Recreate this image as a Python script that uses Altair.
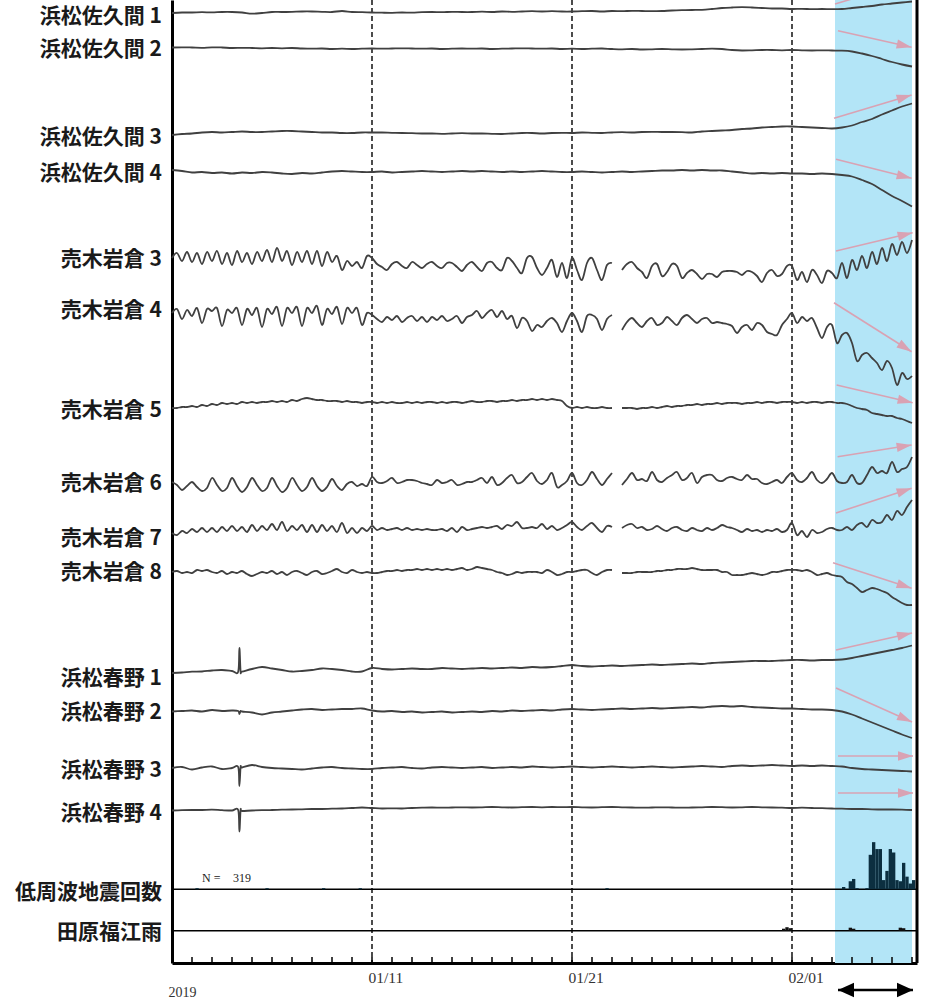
import math
import altair as alt
import pandas as pd

# ---------------- layout of the scales ----------------
WIDTH, HEIGHT = 745, 963
DAY_MIN, DAY_MAX = 0.0, 37.25          # days after 2019-01-01 00:00
Y_MAX = 963                            # vertical trace units (top = 0)

FINE = 0.25     # sampling of the 売木岩倉 records (days)
COARSE = 0.5    # sampling of the 浜松佐久間 / 浜松春野 records (days)

TICK_DAYS = [10, 20, 31]
TICK_LABELS = ["01/11", "01/21", "02/01"]
SHADE = [33.15, 37.0]

# ---------------- strain records (deviation, up = positive) ----------------
SAKUMA1 = [0, 0.5, 0.5, 0.8, 0.6, 1, 1, 0.5, -0.7, 0,
           1, 1, 1.2, 1.5, 1.5, 1.2, 1, 2, 1, 0.8,
           0.5, 0.3, 0.2, 0.5, 0.3, 0.8, 1, 0.8, 1.2, 1,
           1, 1.3, 1, 1.5, 1.2, 1.5, 1.8, 1.5, 1.8, 1.5,
           1.5, 1.8, 2, 1.5, 2, 1.8, 2.2, 2, 1.8, 2,
           2.5, 2.8, 3, 3.2, 4, 5, 5.5, 5.8, 5.5, 5,
           4.5, 4.5, 4, 4.2, 3.8, 4, 3.8, 4, 5, 6,
           7, 8.5, 9.5, 10.5, 11.5]
SAKUMA2 = [0, 0.2, 0, -0.3, 0.2, 0, -0.5, -0.3, -0.5, -0.8,
           -0.5, -0.8, -0.5, -1, -1.2, -1, -1.5, -1.2, -1.5, -1.2,
           -1, -1.2, -1, -0.8, -1, -1.2, -1, -1.5, -1.2, -1,
           -1.2, -1, -1.5, -1.2, -1, -0.8, -1, -1.2, -1, -1.5,
           -1.2, -1.5, -1.2, -1, -1.5, -1.8, -1.5, -2, -1.8, -1.5,
           -1.8, -2, -1.8, -1.5, -1.2, -1.5, -2.5, -3, -2.8, -2.5,
           -2.5, -2.8, -2.5, -2.8, -3, -2.8, -3, -3.2, -4, -6,
           -8.5, -11.5, -14.5, -17, -19]
SAKUMA3 = [-1, 0, 0.5, 1.5, 2, 1.5, 2, 2.5, 2, 2,
           2.5, 3, 3, 2.5, 2, 1.5, 1.5, 1, 1, 1.5,
           1.5, 1.5, 1.2, 1, 0.8, 0.5, 0.5, 0.2, 0.5, 0.8,
           0.5, 0.5, 0.2, 0, 0.5, 1, 1, 0.5, 1, 1.2,
           1, 1.5, 1.2, 1, 1.5, 1.8, 1.5, 2, 2.2, 2,
           2, 1.8, 1.5, 2.5, 3, 3.5, 4, 5, 5.5, 6.5,
           7, 7.5, 7.5, 7, 6.5, 6, 5.5, 6.5, 8.5, 12,
           15, 19.5, 23.5, 27.5, 30.5]
SAKUMA4 = [1, 0, -1.5, -1, -2, -1.5, -2.5, -1.5, -2, -1,
           -1.5, -2.5, -3, -2, -2.5, -1.5, -0.5, 0, -0.5, -1,
           -1, -0.5, -1.5, -1, -0.5, 0, -0.5, -1, -0.5, 0,
           -0.5, 0, -0.5, -1, -0.5, -1, -0.5, 0, -0.5, -1,
           -1, -0.5, -1, -1.5, -1, -0.5, -1, -0.5, 0, 0.5,
           0.5, 1, 0.5, 1, 0.5, 0.5, -0.5, -1.5, -2.5, -2,
           -2.5, -2, -2.5, -2.5, -3, -2.5, -3, -4, -5.5, -9,
           -13, -19, -25, -30, -35.5]

URAGI3 = [0, 5, -3, 6,  -4, 5, -6, 6,  -3, 7, -6, 5,  -7, 7, -4, 5,
          -6, 6, -3, 8,  -4, 10, -3, 7,  -7, 6, -4, 7,  -6, 7, -8, 6,
          -4, 2, -12, -3,  -8, -4, -10, 2,  0, -6, -9, -12,  -6, -4, -8, -10,
          -4, -7, -10, -6,  -4, -8, -10, -5,  -5, -9, -13, -7,  -4, -9, -13, -5,
          -4, -10, -12, 0,  -3, -10, -15, 0,  1, -10, -17, -10,  -2, -19, -5, -20,
          0, -12, -22, -5,  0, -12, -22, -7,  -5, None, -12, -6,  -4, -10, -14, -20,
          -8, -6, -18, -14,  -6, -8, -20, -15,  -12, -16, -21, -16,  -16, -19, -14, -13,
          -13, -14, -17, -13,  -14, -18, -24, -15,  -12, -18, -16, -8,  -8, -22, -14, -24,
          -12, -17, -25, -13,  -15, -20, -5, -20,  -2, -12, 2, -10,  6, -6, 10, -3,
          14, 3, 16, 5,  18]
URAGI4 = [0, 4, -6, 3,  -3, 5, -10, 4,  2, 5, -13, 3,  0, 5, -12, 4,
          -2, 5, -14, 4,  -1, 6, -13, 5,  0, 6, -13, 5,  0, 7, -12, 4,
          -1, 6, -11, 5,  0, 5, -12, 0,  -2, -6, -9, -4,  -7, -3, -9, -5,
          -3, -8, -4, -9,  -4, -7, -3, -8,  -6, -3, -10, -4,  -2, 2, -5, 0,
          3, -4, 2, -6,  -3, -15, -5, -8,  -18, -12, -14, -8,  -5, -10, -19, -8,
          0, -8, -19, -3,  -2, -6, -17, -6,  -2, None, -17, -9,  -5, -10, -14, -8,
          -5, -12, -10, -4,  -8, -12, -5, -2,  -6, -10, -6, -5,  -10, -9, -10, -11,
          -13, -20, -14, -12,  -17, -10, -12, -19,  -21, -22, -12, -6,  0, -10, -4, -8,
          -5, -15, -25, -14,  -12, -30, -22, -20,  -30, -48, -42, -40,  -45, -50, -57, -48,
          -55, -72, -60, -66,  -63]
URAGI5 = [-1, -1, 0, 0,  1, 0, 2, 1,  3, 2, 4, 3,  4, 3, 5, 4,
          5, 4, 5, 5,  6, 5, 6, 5,  7, 6, 8, 9,  8, 7, 7, 6,
          6, 6, 5, 6,  5, 5, 4, 5,  5, 4, 5, 4,  5, 4, 4, 5,
          4, 5, 4, 5,  5, 4, 5, 4,  5, 5, 4, 5,  6, 5, 5, 6,
          6, 5, 6, 6,  7, 6, 7, 7,  8, 7, 8, 7,  8, 7, 6, 1,
          -1, 0, -1, 0,  -1, -1, 0, -1,  -1, None, -1, -1,  -1, -2, -1, -1,
          0, -1, 0, 1,  0, 1, 1, 2,  2, 3, 2, 3,  3, 4, 3, 4,
          4, 4, 3, 4,  4, 5, 4, 5,  5, 4, 5, 5,  5, 4, 5, 4,
          5, 5, 4, 5,  5, 4, 4, 3,  1, -1, -2, -3,  -6, -7, -8, -9,
          -9, -11, -12, -14,  -16]
URAGI6 = [3, 0, -5, -1,  3, -2, -6, -3,  7, 0, -6, -3,  7, -1, -7, -2,
          7, 0, -6, -3,  7, -1, -7, -3,  7, 0, -6, -2,  7, -1, -6, -2,
          6, -1, -5, 1,  3, -1, 1, -1,  8, 3, 2, 4,  7, 2, 3, 5,
          5, 4, 2, 1,  0, 5, 2, 3,  5, 0, 1, 3,  3, 5, 7, 2,
          8, 0, 2, 7,  10, 2, 3, 8,  12, 4, 1, 5,  12, -2, 0, 4,
          12, 2, 0, 5,  13, 6, 0, 6,  12, None, 0, 6,  12, 5, 6, 4,
          13, 5, 3, 7,  10, 13, 5, 7,  12, 2, 8, 10,  10, 5, 4, 7,
          8, 6, 5, 10,  6, 6, 2, 1,  3, 5, 2, 8,  12, 5, 3, 7,
          13, 5, 2, 6,  12, 4, 2, 3,  10, 2, 2, 10,  18, 12, 14, 12,
          23, 13, 16, 18,  28]
URAGI7 = [0, -2, 2, 0,  4, 1, 5, 1,  5, 1, 6, 2,  7, 2, 6, 1,
          8, 2, 7, 3,  9, 3, 11, 2,  7, 3, 8, 1,  8, 1, 8, 2,
          7, 1, 10, 0,  5, 0, 5, 2,  7, 3, 5, 3,  4, 5, 3, 5,
          3, 4, 3, 4,  3, 3, 4, 2,  5, 1, 6, 3,  4, 5, 6, 5,
          6, 7, 4, 8,  7, 11, 5, 5,  6, 5, 9, 4,  7, 3, 5, 8,
          11, 6, 3, 7,  10, 5, 1, 7,  6, None, 5, 8,  9, 5, 6, 3,
          4, 7, 4, 2,  5, 6, 3, 2,  5, 3, 2, 5,  3, 5, 8, 6,
          5, 3, 1, 4,  2, 3, 1, 3,  2, 4, 1, 3,  10, -2, 2, -4,
          3, 0, 1, 4,  5, 3, 3, 6,  3, 8, 10, 6,  13, 10, 11, 18,
          13, 22, 18, 26,  33]
URAGI8 = [0, 1, -1, 0,  -1, 2, 1, 2,  0, -1, 1, -2,  0, -1, 1, -2,
          -4, -2, 0, -1,  1, -2, 0, -3,  0, 1, -1, -3,  0, 1, -2, -1,
          1, 3, 0, -1,  2, 0, -1, 0,  -1, -1, 0, 1,  1, 2, 1, 2,
          2, 3, 2, 3,  2, 3, 2, 3,  2, 3, 4, 2,  3, 5, 4, 3,
          2, 0, -1, -3,  -2, 0, -1, 0,  0, 0, -1, 2,  0, -3, -2, 0,
          0, 1, 2, 2,  -1, -3, 0, 2,  2, None, -1, -1,  -1, 0, 0, 0,
          0, 1, 1, 2,  2, 3, 3, 3,  4, 3, 2, 2,  2, 2, 0, 0,
          -3, -3, -3, -2,  -1, -2, -3, -2,  0, 0, 1, 2,  2, 2, 1, 2,
          0, -3, -2, -1,  -3, -4, -5, -10,  -12, -16, -20, -18,  -16, -17, -19, -21,
          -25, -28, -31, -33,  -33]

HARUNO1 = [0, 0.5, 1.3, 1.5, 2.5, 3, 2, 1.3, 4, 6,
           4.5, 3, 1.5, 2, 3, 4.5, 4, 3, 1.5, 1.5,
           5, 4, 3.5, 4, 4.5, 4, 4, 5, 4.5, 4,
           4.5, 5, 4.5, 5, 5.5, 5, 6, 5.5, 6, 7,
           8, 7, 6.5, 7, 7.5, 7, 7.5, 8, 8.5, 8,
           8.5, 9, 9.5, 9, 10, 10.5, 11, 11.5, 12, 12,
           12, 12.5, 13, 13, 12.5, 13, 13, 13.5, 15, 17,
           19, 21, 23, 25, 27.5]
HARUNO2 = [0, 0.5, 1, 0, 1.5, 0.5, 1, 0, -1, -3,
           -1, 0, 1, 2, 2.5, 1.5, 2, 2.5, 2.5, 3,
           1, 0, 0.5, -0.5, 0, -1, -0.5, 0, -1, -0.5,
           0, -0.5, 0.5, 0, 1, 0.5, 1, 1.5, 1, 2,
           2.5, 2, 1.5, 2, 2.5, 3, 2.5, 3, 3.5, 3,
           3.5, 4, 4.5, 4, 5, 5.5, 5, 5.5, 4.5, 4,
           3.5, 3, 3, 2.5, 2, 2, 1.5, 0, -3, -7,
           -11, -15, -19, -23, -26.5]
HARUNO3 = [0, 1, -1.5, 0.5, 1.5, -1, 0, 0.5, 3, 1,
           0, -0.5, -1, -1.5, -0.5, 0.5, 1, 0, -0.5, -1,
           -1, 0, 0.5, 1, 0, -0.5, 0.5, 1, 0.5, 0,
           0.5, 1, 0, 0.5, 1, 0.5, 1.5, 1, 0.5, 1,
           1.5, 1, 0.5, 1, 1.5, 1, 0.5, 1, 1.5, 1,
           0.5, 1, 1.5, 2, 1.5, 1, 2, 2.5, 2, 2.5,
           3, 2.5, 2, 2.5, 2, 2.5, 2, 1.5, 0, -1,
           -1.5, -2, -2.5, -3, -3.5]
HARUNO4 = [0, 0.3, 0.5, 0.5, 0.8, 0.3, 0, -0.5, 0, 0.3,
           0.5, 0.8, 1, 1.2, 1.5, 1.5, 1.8, 2, 2.5, 3,
           2.5, 2, 2.2, 2, 2.5, 2.8, 3, 2.8, 3, 3.2,
           3, 3.2, 3.5, 3.2, 3, 3.3, 3.5, 3.2, 3.5, 3.3,
           3.5, 3.2, 3, 3.3, 3.5, 3.2, 3, 2.8, 3, 3.2,
           3, 2.8, 3, 3.2, 3.5, 3.3, 3, 3.2, 3.5, 3.2,
           3, 2.8, 2.5, 2.8, 2.5, 2.3, 2, 1.8, 1.5, 1.5,
           1.2, 1, 1, 0.8, 0.5]

# short disturbance recorded at 浜松春野 on day 3.37
SPIKE_DAYS = [3.31, 3.37, 3.43]
HARUNO1_SPIKE = [1.3, 25, 1.5]
HARUNO2_SPIKE = [0.5, -2.5, 0.5]
HARUNO3_SPIKE = [1.0, -18, 1.0]
HARUNO4_SPIKE = [0.5, -21, 0.4]

NAMES = ["浜松佐久間 1", "浜松佐久間 2", "浜松佐久間 3", "浜松佐久間 4",
         "売木岩倉 3", "売木岩倉 4", "売木岩倉 5", "売木岩倉 6", "売木岩倉 7", "売木岩倉 8",
         "浜松春野 1", "浜松春野 2", "浜松春野 3", "浜松春野 4"]
RECORDS = [SAKUMA1, SAKUMA2, SAKUMA3, SAKUMA4,
           URAGI3, URAGI4, URAGI5, URAGI6, URAGI7, URAGI8,
           HARUNO1, HARUNO2, HARUNO3, HARUNO4]
STEPS = [COARSE] * 4 + [FINE] * 6 + [COARSE] * 4
SPIKES = [None] * 10 + [HARUNO1_SPIKE, HARUNO2_SPIKE, HARUNO3_SPIKE, HARUNO4_SPIKE]
TRACE_OFFSET = [13, 47.5, 134, 171, 258, 313, 407, 485, 533, 572, 673, 711.5, 768, 810.5]
LABEL_Y = [17, 49.5, 137.5, 174, 260, 311, 411, 484, 539, 573, 679, 713, 771, 814]

# low-frequency earthquakes (4-hour bins) and rain (4-hour bins)
LFE_LABEL, LFE_BASE, LFE_LABEL_Y = "低周波地震回数", 889.3, 893
LFE_BIN = 1 / 6
LFE_DAY = [1.17, 4.67, 7.5, 9.33, 21.67] + [33.5 + i / 6 for i in range(22)]
LFE_COUNT = [1, 1, 1, 1, 1,
             2, 0, 7, 9, 1, 0, 0, 1, 30, 41, 35, 35, 8, 16, 35, 32, 8, 7, 23, 11, 5, 8]
LFE_UNIT = 1.15
LFE_TOTAL = "319"

RAIN_LABEL, RAIN_BASE, RAIN_LABEL_Y = "田原福江雨", 930.7, 932.5
RAIN_DAY = [30.5, 30.667, 30.833, 33.833, 34.0, 36.333, 36.5]
RAIN_MM = [2, 3.5, 2.5, 3, 2, 3, 2.5]
RAIN_UNIT = 1.0

# trend arrows over the shaded period
ARROW_T0 = [33.15, 33.3, 33.1, 33.2, 33.2, 33.1, 33.23, 33.28, 33.2, 33.05, 33.2, 33.2, 33.3, 33.3]
ARROW_T1 = [37.0, 36.98, 36.98, 36.98, 37.03, 36.98, 37.03, 36.98, 36.98, 36.98, 37.0, 37.0, 37.05, 37.05]
ARROW_Y0 = [4, 30.7, 118.3, 159.3, 251, 302.7, 385, 456.7, 513, 562.7, 650, 688, 756, 793]
ARROW_Y1 = [-19, 47.3, 95, 178.3, 232.7, 351.7, 402.7, 445, 488.3, 588.3, 633, 722, 756, 793]

SPAN_ARROW = [33.3, 37.05]
SPAN_ARROW_Y = 990

# ---------------- tables ----------------
rows = []
for name, off, vals, step, spk in zip(NAMES, TRACE_OFFSET, RECORDS, STEPS, SPIKES):
    pts = [(i * step, v) for i, v in enumerate(vals)]
    if spk is not None:
        pts += list(zip(SPIKE_DAYS, spk))
        pts.sort(key=lambda p: p[0])
    seg = 0
    for t, v in pts:
        if v is None:
            seg += 1
            continue
        rows.append({"seg": f"{name}-{seg}", "t": t, "pos": off - v})
lines_df = pd.DataFrame(rows)

labels_df = pd.DataFrame({"name": NAMES + [LFE_LABEL, RAIN_LABEL],
                          "ly": LABEL_Y + [LFE_LABEL_Y, RAIN_LABEL_Y]})

lfe_df = pd.DataFrame({"t0": LFE_DAY, "t1": [d + LFE_BIN for d in LFE_DAY],
                       "y0": LFE_BASE,
                       "y1": [LFE_BASE - c * LFE_UNIT for c in LFE_COUNT]})
rain_df = pd.DataFrame({"t0": RAIN_DAY, "t1": [d + 1 / 6 for d in RAIN_DAY],
                        "y0": RAIN_BASE,
                        "y1": [RAIN_BASE - m * RAIN_UNIT for m in RAIN_MM]})
base_df = pd.DataFrame({"y": [LFE_BASE, RAIN_BASE]})

px_day = WIDTH / (DAY_MAX - DAY_MIN)
px_unit = HEIGHT / Y_MAX
arrows_df = pd.DataFrame({"t0": ARROW_T0, "t1": ARROW_T1, "y0": ARROW_Y0, "y1": ARROW_Y1})
arrows_df["ang"] = [math.degrees(math.atan2((b - a) * px_unit, (t1 - t0) * px_day)) % 360
                    for a, b, t0, t1 in zip(ARROW_Y0, ARROW_Y1, ARROW_T0, ARROW_T1)]

span_df = pd.DataFrame({"t0": [SPAN_ARROW[0]], "t1": [SPAN_ARROW[1]], "y": [SPAN_ARROW_Y]})
span_heads = pd.DataFrame({"t": SPAN_ARROW, "y": [SPAN_ARROW_Y] * 2, "ang": [180, 0]})

ticks_df = pd.DataFrame({"t": list(range(1, 38)), "y0": 957, "y1": 963})
note_df = pd.DataFrame({"t": [1.5, 3.05], "y": [881.7, 881.7], "txt": ["N =", LFE_TOTAL]})

# ---------------- encodings ----------------
label_expr = " : ".join(f"datum.value == {d} ? '{l}'" for d, l in zip(TICK_DAYS, TICK_LABELS)) + " : ''"
x_scale = alt.Scale(domain=[DAY_MIN, DAY_MAX], nice=False, zero=False)
y_scale = alt.Scale(domain=[0, Y_MAX], reverse=True, nice=False, zero=False)
x_axis = alt.Axis(values=TICK_DAYS, labelExpr=label_expr, title="2019", grid=False,
                  ticks=True, tickSize=0, domain=True, domainColor="black", domainWidth=3,
                  labelFont="Liberation Serif", labelFontSize=15.5, labelColor="#333333",
                  labelAlign="left", labelBaseline="alphabetic", labelOffset=-4, labelPadding=19,
                  labelFlush=False,
                  titleX=-4, titleY=33, titleAlign="left", titleBaseline="alphabetic",
                  titleFont="Liberation Serif", titleFontSize=14, titleFontWeight="normal",
                  titleColor="#333333")
y_axis = alt.Axis(title="", grid=False, ticks=False, labels=False, domain=True,
                  domainColor="black", domainWidth=3)


def X(f):
    return alt.X(f, type="quantitative", scale=x_scale, axis=x_axis)


def Y(f):
    return alt.Y(f, type="quantitative", scale=y_scale, axis=y_axis)


SHADE_COLOR = "#b3e5f7"
PINK = "#d9a2b3"
TRACE = "#404040"

shade = alt.Chart(pd.DataFrame({"a": [SHADE[0]], "b": [SHADE[1]]})).mark_rect(
    color=SHADE_COLOR).encode(x=X("a"), x2=alt.X2("b"))
dashed = alt.Chart(pd.DataFrame({"t": TICK_DAYS})).mark_rule(
    color="black", strokeDash=[5, 3], strokeWidth=1.4).encode(x=X("t"))
ticks = alt.Chart(ticks_df).mark_rule(color="black", strokeWidth=1.5).encode(
    x=X("t"), y=Y("y0"), y2=alt.Y2("y1"))
bases = alt.Chart(base_df).mark_rule(color="black", strokeWidth=1.5).encode(y=Y("y"))
traces = alt.Chart(lines_df).mark_line(color=TRACE, strokeWidth=1.8, interpolate="cardinal").encode(
    x=X("t"), y=Y("pos"), detail="seg:N")
lfe = alt.Chart(lfe_df).mark_rect(color="#0c2f40").encode(
    x=X("t0"), x2=alt.X2("t1"), y=Y("y0"), y2=alt.Y2("y1"))
rain = alt.Chart(rain_df).mark_rect(color="#111111").encode(
    x=X("t0"), x2=alt.X2("t1"), y=Y("y0"), y2=alt.Y2("y1"))
arrow_lines = alt.Chart(arrows_df).mark_rule(color=PINK, strokeWidth=1.6).encode(
    x=X("t0"), x2=alt.X2("t1"), y=Y("y0"), y2=alt.Y2("y1"))
arrow_heads = alt.Chart(arrows_df).mark_point(
    shape="M0,0L-2,-0.62L-2,0.62Z", size=225, filled=True, opacity=1, color=PINK, strokeWidth=0
).encode(x=X("t1"), y=Y("y1"), angle=alt.Angle("ang:Q", scale=None))
right_frame = alt.Chart(pd.DataFrame({"t": [DAY_MAX]})).mark_rule(
    color="black", strokeWidth=3).encode(x=X("t"))
labels = alt.Chart(labels_df).mark_text(
    align="right", baseline="middle", font="Noto Sans CJK JP", fontSize=21,
    fontWeight="bold", color="#1a1a1a").encode(x=alt.value(-10), y=Y("ly"), text="name:N")
notes = alt.Chart(note_df).mark_text(
    align="left", baseline="alphabetic", font="Liberation Serif", fontSize=12,
    color="#222222").encode(x=X("t"), y=Y("y"), text="txt:N")
span_line = alt.Chart(span_df).mark_rule(color="black", strokeWidth=2.5).encode(
    x=X("t0"), x2=alt.X2("t1"), y=Y("y"))
span_tips = alt.Chart(span_heads).mark_point(
    shape="M0,0L-2,-0.9L-2,0.9Z", size=256, filled=True, opacity=1, color="black", strokeWidth=0
).encode(x=X("t"), y=Y("y"), angle=alt.Angle("ang:Q", scale=None))

chart = alt.layer(
    shade, dashed, ticks, bases, traces, lfe, rain, arrow_lines, arrow_heads,
    right_frame, labels, notes, span_line, span_tips
).properties(
    width=WIDTH, height=HEIGHT,
    autosize=alt.AutoSizeParams(type="none"),
    padding={"left": 172, "top": 0, "right": 10, "bottom": 35},
    background="white",
).configure_view(stroke="transparent")

chart.save("out.html", embed_options={"renderer": "svg", "actions": False})
